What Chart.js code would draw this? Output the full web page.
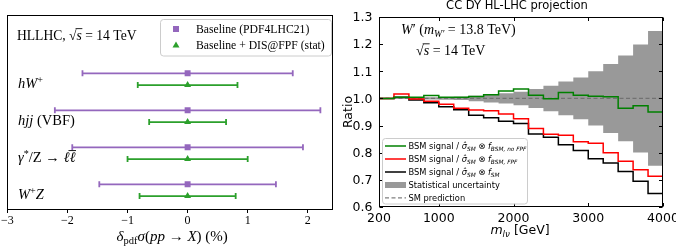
<!DOCTYPE html>
<html><head><meta charset="utf-8">
<script src="https://cdn.jsdelivr.net/npm/chart.js@4.4.0/dist/chart.umd.min.js"></script>
<style>
html,body{margin:0;padding:0;background:#fff;}
#wrap{position:relative;width:676px;height:246px;overflow:hidden;background:#fff;}
#c1{position:absolute;left:0;top:0;}
#c2{position:absolute;left:340px;top:0;}
</style></head><body>
<div id="wrap">
<canvas id="c1" width="340" height="246"></canvas>
<canvas id="c2" width="336" height="246"></canvas>
</div>
<script>
// ---------------- DATA: left panel ----------------
const processLabels = ['{i:hW}{sup:+}', '{i:hjj} (VBF)', '{i:γ}{sup:*}/Z → {i:ℓ}{over:ℓ}', '{i:W}{sup:+}{i:Z}'];
const baselineCenter = [0, 0, 0, 0];
const baselineErr = [1.75, 2.21, 1.92, 1.47];
const fpfCenter = [0, 0, 0, 0];
const fpfErr = [0.83, 0.64, 1.00, 0.80];
const leftXTicks = [-3, -2, -1, 0, 1, 2];
const leftSeriesNames = ['Baseline (PDF4LHC21)', 'Baseline + DIS@FPF (stat)'];

// ---------------- DATA: right panel ----------------
const binEdges = [200,400,600,800,1000,1200,1400,1600,1800,2000,2200,2400,2600,2800,3000,3200,3400,3600,3800,4000];
const statUnc    = [0.002,0.002,0.003,0.004,0.005,0.006,0.010,0.015,0.019,0.025,0.035,0.047,0.062,0.077,0.100,0.127,0.158,0.199,0.248];
const ratioNoFPF = [1.000,1.004,1.004,1.011,1.004,1.004,1.007,1.014,1.027,1.035,1.012,0.999,1.022,1.012,1.008,1.006,0.964,0.973,0.950];
const ratioFPF   = [1.000,1.016,0.998,0.990,0.979,0.964,0.957,0.955,0.943,0.925,0.889,0.868,0.864,0.840,0.835,0.800,0.769,0.737,0.713];
const ratioSM    = [1.000,1.004,0.994,0.984,0.969,0.958,0.938,0.929,0.916,0.908,0.869,0.857,0.829,0.808,0.778,0.762,0.731,0.695,0.650];
const smPrediction = 1.0;
const rightXTicks = [200, 1000, 2000, 3000, 4000];
const rightYTicks = [0.6, 0.7, 0.8, 0.9, 1.0, 1.1, 1.2, 1.3];
const rightLegend = [
  'BSM signal / {i:σ̂}{isub:SM} ⊗ {i:f}{isub:BSM, no FPF}',
  'BSM signal / {i:σ̂}{isub:SM} ⊗ {i:f}{isub:BSM, FPF}',
  'BSM signal / {i:σ̂}{isub:SM} ⊗ {i:f}{isub:SM}',
  'Statistical uncertainty',
  'SM prediction'
];

// ---------------- helpers ----------------
const RS = "'Liberation Serif','DejaVu Serif',serif";
const SS = "'DejaVu Sans',sans-serif";
function parseRich(s){
  const re=/\{(\w+):([^}]*)\}|([^{]+)/g; const out=[]; let m;
  while((m=re.exec(s))){ if(m[3]!==undefined) out.push({t:m[3],st:''}); else out.push({t:m[2],st:m[1]}); }
  return out;
}
function drawRich(ctx, s, x, yBase, size, family, align, color){
  align = align||'left'; color = color||'#000';
  const segs = parseRich(s);
  const fontFor = st => {
    const small = /sub|sup/.test(st);
    const it = (st.charAt(0)==='i') || st==='over';
    return (it?'italic ':'') + (small? size*0.7 : size) + 'px ' + family;
  };
  let w=0; const ws = segs.map(sg=>{ctx.font=fontFor(sg.st); const m=ctx.measureText(sg.t).width; w+=m; return m;});
  let cx = align==='center'? x - w/2 : (align==='right'? x-w : x);
  ctx.save(); ctx.fillStyle=color; ctx.textBaseline='alphabetic'; ctx.textAlign='left';
  segs.forEach((sg,k)=>{
    ctx.font=fontFor(sg.st); let dy=0;
    if(/sub$/.test(sg.st)) dy = size*0.22;
    if(/sup$/.test(sg.st)) dy = -size*0.38;
    ctx.fillText(sg.t, cx, yBase+dy);
    if(sg.st==='over'){
      ctx.strokeStyle=color; ctx.lineWidth=Math.max(0.8,size/16);
      const top = yBase - size*0.8;
      ctx.beginPath(); ctx.moveTo(cx-1, top); ctx.lineTo(cx+ws[k]+0.5, top); ctx.stroke();
    }
    cx+=ws[k];
  });
  ctx.restore();
}
function roundRect(ctx,x,y,w,h,r){
  ctx.beginPath(); ctx.moveTo(x+r,y); ctx.lineTo(x+w-r,y); ctx.quadraticCurveTo(x+w,y,x+w,y+r);
  ctx.lineTo(x+w,y+h-r); ctx.quadraticCurveTo(x+w,y+h,x+w-r,y+h); ctx.lineTo(x+r,y+h);
  ctx.quadraticCurveTo(x,y+h,x,y+h-r); ctx.lineTo(x,y+r); ctx.quadraticCurveTo(x,y,x+r,y); ctx.closePath();
}
const minusFmt = v => (v<0 ? '\u2212'+Math.abs(v) : String(v));

// ---------------- LEFT CHART ----------------
const PURPLE = '#9467bd', GREEN = '#2ca02c';
const rowOff = 0.159;
const leftPlugin = {
  id:'leftDecor',
  beforeDatasetsDraw(chart){
    const {ctx, scales:{x,y}} = chart;
    chart.data.datasets.forEach(ds=>{
      ds.data.forEach(p=>{
        const x0=x.getPixelForValue(p.x-p.err), x1=x.getPixelForValue(p.x+p.err), yy=y.getPixelForValue(p.y);
        ctx.save(); ctx.strokeStyle=ds.barColor; ctx.lineWidth=1.8;
        ctx.beginPath(); ctx.moveTo(x0,yy); ctx.lineTo(x1,yy);
        ctx.moveTo(x0,yy-3); ctx.lineTo(x0,yy+3); ctx.moveTo(x1,yy-3); ctx.lineTo(x1,yy+3);
        ctx.stroke(); ctx.restore();
      });
    });
  },
  afterDraw(chart){
    const {ctx, chartArea:a, scales:{x,y}} = chart;
    ctx.save(); ctx.strokeStyle='#000'; ctx.lineWidth=1;
    ctx.strokeRect(Math.round(a.left)+0.5, Math.round(a.top)+0.5, Math.round(a.right-a.left)-1, Math.round(a.bottom-a.top));
    ctx.restore();
    processLabels.forEach((lab,i)=>{
      drawRich(ctx, lab, 18, y.getPixelForValue(i)+9, 14.5, RS, 'left');
    });
    drawRich(ctx, 'HLLHC, √{over:s} = 14 TeV', 17, 39.5, 13.6, RS, 'left');
    ctx.save();
    roundRect(ctx, 160.5, 19.5, 171, 36.5, 3);
    ctx.fillStyle='rgba(255,255,255,0.85)'; ctx.fill(); ctx.strokeStyle='#cccccc'; ctx.lineWidth=1; ctx.stroke();
    ctx.fillStyle=PURPLE; ctx.fillRect(173, 26, 6, 6);
    ctx.fillStyle=GREEN; ctx.beginPath(); ctx.moveTo(176,41.5); ctx.lineTo(179.5,47.5); ctx.lineTo(172.5,47.5); ctx.closePath(); ctx.fill();
    ctx.restore();
    drawRich(ctx, leftSeriesNames[0], 196, 33, 11.7, RS, 'left');
    drawRich(ctx, leftSeriesNames[1], 196, 49, 11.7, RS, 'left');
    drawRich(ctx, '{i:δ}{sub:pdf}{i:σ}({i:pp} → {i:X}) (%)', (a.left+a.right)/2 + 2, 241, 15, RS, 'center');
  }
};
new Chart(document.getElementById('c1'), {
  type:'scatter',
  data:{ datasets:[
    { label:leftSeriesNames[0], barColor:PURPLE,
      data: processLabels.map((_,i)=>({x:baselineCenter[i], y:i-rowOff, err:baselineErr[i]})),
      pointStyle:'rect', pointRadius:4.2, pointBackgroundColor:PURPLE, pointBorderWidth:0, borderColor:PURPLE },
    { label:leftSeriesNames[1], barColor:GREEN,
      data: processLabels.map((_,i)=>({x:fpfCenter[i], y:i+rowOff, err:fpfErr[i]})),
      pointStyle:'triangle', pointRadius:4, pointBackgroundColor:GREEN, pointBorderWidth:0, borderColor:GREEN }
  ]},
  options:{
    responsive:false, animation:false, devicePixelRatio:1,
    layout:{padding:{left:7, right:7, top:15, bottom:0}},
    plugins:{legend:{display:false}, tooltip:{enabled:false}},
    scales:{
      x:{ type:'linear', min:-3, max:2.42,
        afterBuildTicks: s=>{ s.ticks = leftXTicks.map(v=>({value:v})); },
        afterFit: s=>{ s.height = 37; },
        ticks:{ font:{family:RS, size:12}, color:'#000', padding:1, maxRotation:0, autoSkip:false, callback:v=>minusFmt(v) },
        grid:{ drawOnChartArea:false, drawTicks:true, tickLength:4, color:'#000', tickWidth:1 },
        border:{ display:false }
      },
      y:{ type:'linear', min:-1.734, max:3.509, reverse:true, display:false }
    }
  },
  plugins:[leftPlugin]
});

// ---------------- RIGHT CHART ----------------
const stepData = vals => binEdges.map((e,i)=>({x:e, y:vals[Math.min(i, vals.length-1)]}));
const GRAY_BAND = '#999999';
const rightPlugin = {
  id:'rightDecor',
  afterDraw(chart){
    const {ctx, chartArea:a, scales:{x,y}} = chart;
    ctx.save(); ctx.strokeStyle='#000'; ctx.lineWidth=1;
    const L=Math.round(a.left)+0.5, R=Math.round(a.right)-0.5, T=Math.round(a.top)+0.5, B=Math.round(a.bottom)-0.5;
    ctx.strokeRect(L, T, R-L, B-T);
    ctx.beginPath();
    rightXTicks.forEach(v=>{ const px=Math.round(x.getPixelForValue(v))+0.5; ctx.moveTo(px,B); ctx.lineTo(px,B-3.5); ctx.moveTo(px,T); ctx.lineTo(px,T+3.5); });
    rightYTicks.forEach(v=>{ const py=Math.round(y.getPixelForValue(v))+0.5; ctx.moveTo(L,py); ctx.lineTo(L+3.5,py); ctx.moveTo(R,py); ctx.lineTo(R-3.5,py); });
    ctx.stroke();
    ctx.fillStyle='#000'; ctx.font='12.5px '+SS;
    ctx.textAlign='center'; ctx.textBaseline='middle';
    rightXTicks.forEach(v=> ctx.fillText(String(v), x.getPixelForValue(v), 218.5));
    ctx.textAlign='right';
    rightYTicks.forEach(v=> ctx.fillText(v.toFixed(1), a.left-6.5, y.getPixelForValue(v)+1));
    ctx.font='11.5px '+SS; ctx.textAlign='center';
    ctx.fillText('CC DY HL-LHC projection', 177, 6.5);
    ctx.translate(9, 112); ctx.rotate(-Math.PI/2); ctx.font='12.5px '+SS; ctx.fillText('Ratio', 0, 0);
    ctx.restore();
    drawRich(ctx, '{i:m}{isub:lν} [GeV]', 180, 234, 12.5, SS, 'center');
    drawRich(ctx, "{i:W}′ ({i:m}{isub:W′} = 13.8 TeV)", 61, 33.5, 14, RS, 'left');
    drawRich(ctx, '√{over:s} = 14 TeV', 76, 55, 14, RS, 'left');
    ctx.save();
    roundRect(ctx, 42.5, 138.5, 145, 65.5, 3);
    ctx.fillStyle='rgba(255,255,255,0.85)'; ctx.fill(); ctx.strokeStyle='#cccccc'; ctx.lineWidth=1; ctx.stroke();
    const ys=[146,159,172,185,197.8];
    const cols=['#008000','#ff0000','#000000'];
    ctx.lineWidth=1.5;
    cols.forEach((c,k)=>{ ctx.strokeStyle=c; ctx.beginPath(); ctx.moveTo(45,ys[k]); ctx.lineTo(66,ys[k]); ctx.stroke(); });
    ctx.fillStyle=GRAY_BAND; ctx.fillRect(45, ys[3]-3, 21, 6);
    ctx.strokeStyle='#808080'; ctx.lineWidth=1.2; ctx.setLineDash([4,2.5]); ctx.beginPath(); ctx.moveTo(45,ys[4]); ctx.lineTo(66,ys[4]); ctx.stroke();
    ctx.restore();
    rightLegend.forEach((t,k)=> drawRich(ctx, t, 68.5, ys[k]+3, 8.3, SS, 'left'));
  }
};
const lineDs = (label, vals, color, order) => ({
  label, data:stepData(vals), stepped:true, borderColor:color, borderWidth:1.5,
  pointRadius:0, fill:false, order
});
new Chart(document.getElementById('c2'), {
  type:'line',
  data:{ datasets:[
    lineDs('BSM / f_BSM,noFPF', ratioNoFPF, '#008000', 1),
    lineDs('BSM / f_BSM,FPF', ratioFPF, '#ff0000', 2),
    lineDs('BSM / f_SM', ratioSM, '#000000', 3),
    { label:'SM prediction', data:[{x:binEdges[0], y:smPrediction},{x:binEdges[binEdges.length-1], y:smPrediction}],
      borderColor:'rgba(110,110,110,0.9)', borderWidth:1.2, borderDash:[4,2.5], pointRadius:0, fill:false, order:4 },
    { label:'stat up', data:stepData(statUnc.map(u=>smPrediction+u)), stepped:true, borderWidth:0, borderColor:'rgba(0,0,0,0)',
      backgroundColor:GRAY_BAND, pointRadius:0, fill:'+1', order:5 },
    { label:'stat down', data:stepData(statUnc.map(u=>smPrediction-u)), stepped:true, borderWidth:0, borderColor:'rgba(0,0,0,0)',
      pointRadius:0, fill:false, order:6 }
  ]},
  options:{
    responsive:false, animation:false, devicePixelRatio:1,
    layout:{padding:{left:0, right:13, top:17, bottom:0}},
    plugins:{legend:{display:false}, tooltip:{enabled:false}},
    scales:{
      x:{ type:'linear', min:200, max:4000,
        afterBuildTicks: s=>{ s.ticks = rightXTicks.map(v=>({value:v})); },
        afterFit: s=>{ s.height = 39; },
        ticks:{ display:false }, grid:{ display:false }, border:{ display:false }
      },
      y:{ type:'linear', min:0.6, max:1.3,
        afterBuildTicks: s=>{ s.ticks = rightYTicks.map(v=>({value:v})); },
        afterFit: s=>{ s.width = 39; },
        ticks:{ display:false }, grid:{ display:false }, border:{ display:false }
      }
    }
  },
  plugins:[rightPlugin]
});
</script>
</body></html>
